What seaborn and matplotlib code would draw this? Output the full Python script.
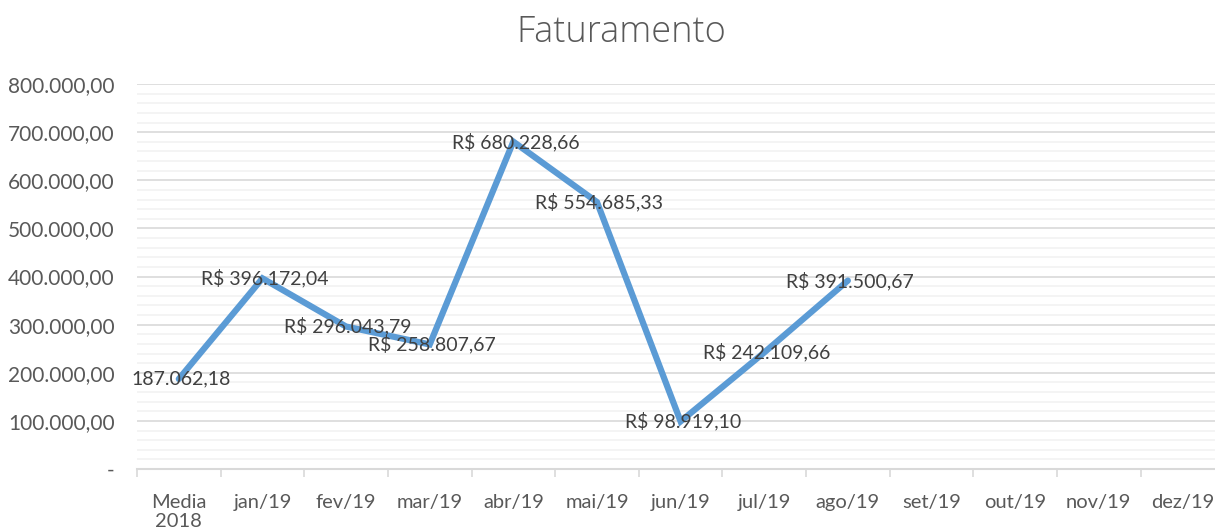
import numpy as np
import pandas as pd
import matplotlib
matplotlib.use("Agg")
import matplotlib.pyplot as plt
import seaborn as sns
from matplotlib.ticker import MultipleLocator, FixedLocator

# Data
months = ["Media\n2018", "jan/19", "fev/19", "mar/19", "abr/19", "mai/19", "jun/19",
          "jul/19", "ago/19", "set/19", "out/19", "nov/19", "dez/19"]
faturamento = [187062.18, 396172.04, 296043.79, 258807.67, 680228.66,
               554685.33, 98919.10, 242109.66, 391500.67]
point_labels = ["187.062,18", "R$ 396.172,04", "R$ 296.043,79", "R$ 258.807,67",
                "R$ 680.228,66", "R$ 554.685,33", "R$ 98.919,10", "R$ 242.109,66",
                "R$ 391.500,67"]
y_ticks = [0, 100000, 200000, 300000, 400000, 500000, 600000, 700000, 800000]
y_tick_labels = ["-", "100.000,00", "200.000,00", "300.000,00", "400.000,00",
                 "500.000,00", "600.000,00", "700.000,00", "800.000,00"]

sns.set_style("white")
plt.rcParams['font.family'] = ['Lato', 'DejaVu Sans']

df = pd.DataFrame({"pos": np.arange(len(faturamento)), "valor": faturamento})

fig = plt.figure(figsize=(12.15, 5.31), dpi=100)
ax = fig.add_axes([137 / 1215, 62 / 531, (1215 - 137) / 1215, (469 - 84) / 531])

sns.lineplot(data=df, x="pos", y="valor", ax=ax, color="#5B9BD5", linewidth=4.5,
             solid_joinstyle="miter", zorder=3)

# data labels centred on each point
for i, (v, lab) in enumerate(zip(faturamento, point_labels)):
    ax.text(i + 0.025, v, lab, ha="center", va="center", fontsize=14,
            color="#404040", zorder=4)

ax.set_xlim(-0.5, 12.39)
ax.set_ylim(0, 800000)

ax.set_xticks(range(len(months)))
ax.set_xticklabels(months, fontsize=14.5, color="#595959", linespacing=1.15)
ax.xaxis.set_minor_locator(FixedLocator(np.arange(-0.5, len(months), 1)))
ax.tick_params(axis="x", which="major", length=0, pad=18)
ax.tick_params(axis="x", which="minor", length=6, width=1.2, color="#D9D9D9", bottom=True)

ax.set_yticks(y_ticks)
ax.set_yticklabels(y_tick_labels, fontsize=15, color="#595959")
ax.yaxis.set_minor_locator(MultipleLocator(20000))
ax.tick_params(axis="y", which="both", length=0, pad=16)

ax.grid(axis="y", which="major", color="#D9D9D9", linewidth=1.2, zorder=0)
ax.grid(axis="y", which="minor", color="#F2F2F2", linewidth=1.2, zorder=0)
ax.set_axisbelow(True)

for s in ["top", "right", "left"]:
    ax.spines[s].set_visible(False)
ax.spines["bottom"].set_color("#D9D9D9")
ax.spines["bottom"].set_linewidth(1.5)

ax.set_xlabel("")
ax.set_ylabel("")
fig.text(621 / 1215, 1 - 32 / 531, "Faturamento", ha="center", va="center",
         fontsize=26, color="#595959", family=["Open Sans", "DejaVu Sans"],
         fontweight="light")

fig.savefig("out.png", dpi=100)
